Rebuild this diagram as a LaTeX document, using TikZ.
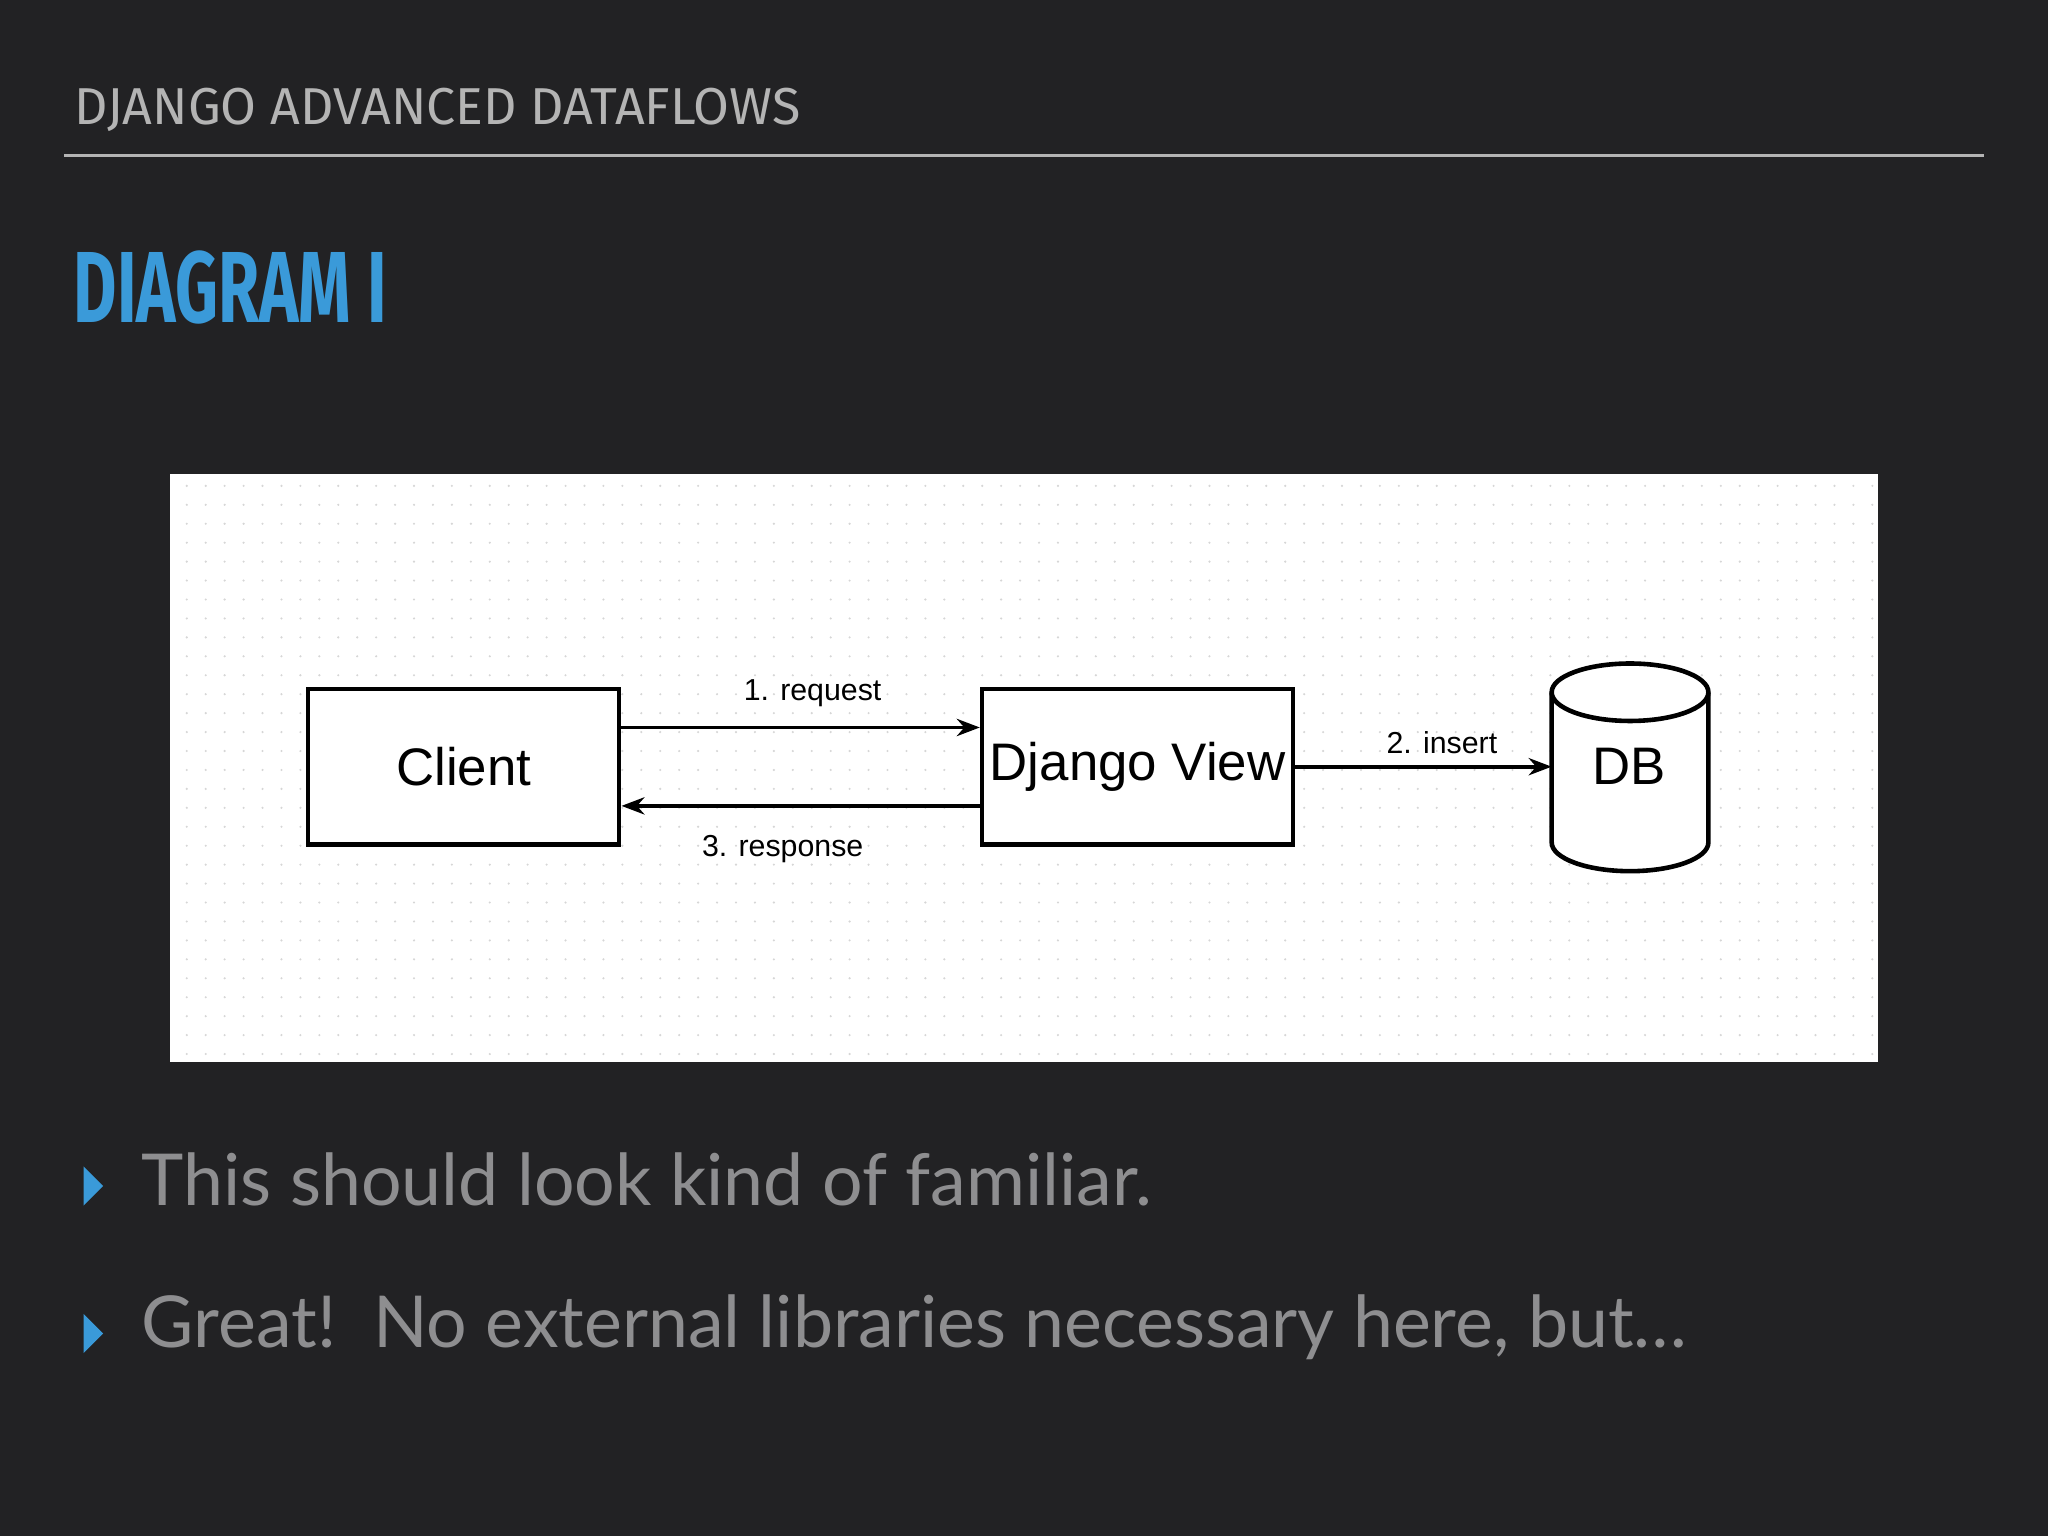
\documentclass[tikz,border=0pt]{standalone}
\usepackage{fontspec}
\setmainfont{Liberation Sans}
\newfontfamily\headfont{Fira Sans}
\newfontfamily\bodyfont{Lato}
\definecolor{bg}{HTML}{222224}
\definecolor{hgray}{HTML}{B4B4B4}
\definecolor{tgray}{HTML}{8E8E90}
\definecolor{tblue}{HTML}{3A9AD9}
\definecolor{dotc}{HTML}{D6D6D6}
\tikzset{box/.style={draw=black,line width=1pt,fill=white,minimum width=2.38cm,minimum height=1.19cm,inner sep=0pt,font=\fontsize{11.5}{12}\selectfont},
lab/.style={font=\fontsize{6.6}{7}\selectfont,inner sep=1pt},
arr/.style={line width=0.8pt,-{Stealth[length=5pt]}},
bull/.style={font=\bodyfont\fontsize{15.6}{16}\selectfont,text=tgray,anchor=west,inner sep=0pt}}
\usetikzlibrary{arrows.meta}
\begin{document}
\begin{tikzpicture}[x=0.01cm,y=-0.01cm]
\fill[bg] (0,0) rectangle (1568,1176);
\useasboundingbox (0,0) rectangle (1568,1176);
\node[anchor=west,inner sep=0pt,text=hgray,font=\headfont\fontsize{11.3}{12}\selectfont] (hdr) at (56,84) {DJANGO ADVANCED DATAFLOWS};
\draw[hgray,line width=0.8pt] (49,119) -- (1519,119);
\node[anchor=west,inner sep=0pt,text=tblue,font=\headfont\bfseries\fontsize{22}{22}\selectfont,xscale=0.66,transform shape] (ttl) at (56,220) {DIAGRAM I};
\fill[white] (130,363) rectangle (1438,813);
\foreach \i in {0,...,89}{\foreach \j in {0,...,30}{\fill[dotc] (143+14.5*\i,372+14.5*\j) circle (0.9);}}
\node[box] (client) at (355,587) {Client};
\node[box] (view) at (871,587) {Django View};
\draw[line width=1pt,fill=white] (1188,530) -- (1188,645) arc[start angle=180,end angle=0,x radius=60,y radius=22] -- (1308,530) arc[start angle=0,end angle=-180,x radius=60,y radius=22] -- cycle;
\draw[line width=1pt] (1188,530) arc[start angle=180,end angle=0,x radius=60,y radius=22];
\node[font=\fontsize{11.5}{12}\selectfont] (db) at (1247,587) {DB};
\coordinate (c1) at ([yshift=0.3cm]client.east);
\coordinate (v1) at ([yshift=0.3cm]view.west);
\coordinate (c2) at ([yshift=-0.3cm]client.east);
\coordinate (v2) at ([yshift=-0.3cm]view.west);
\draw[arr] (c1) -- (v1) node[lab,midway,above=3pt,xshift=2.6pt] {1. request};
\draw[arr] (v2) -- (c2) node[lab,pos=0.55,below=5pt] {3. response};
\draw[arr] (view.east) -- (1188,587) node[lab,midway,above=1.3pt,xshift=4pt] {2. insert};
\fill[tblue] (64,893) -- (79,908) -- (64,923) -- cycle;
\node[bull] (b1) at (108,903) {This should look kind of familiar.};
\fill[tblue] (64,1006) -- (79,1021) -- (64,1036) -- cycle;
\node[bull] (b2) at (108,1016) {Great!\ \ No external libraries necessary here, but\dots};
\end{tikzpicture}
\end{document}
